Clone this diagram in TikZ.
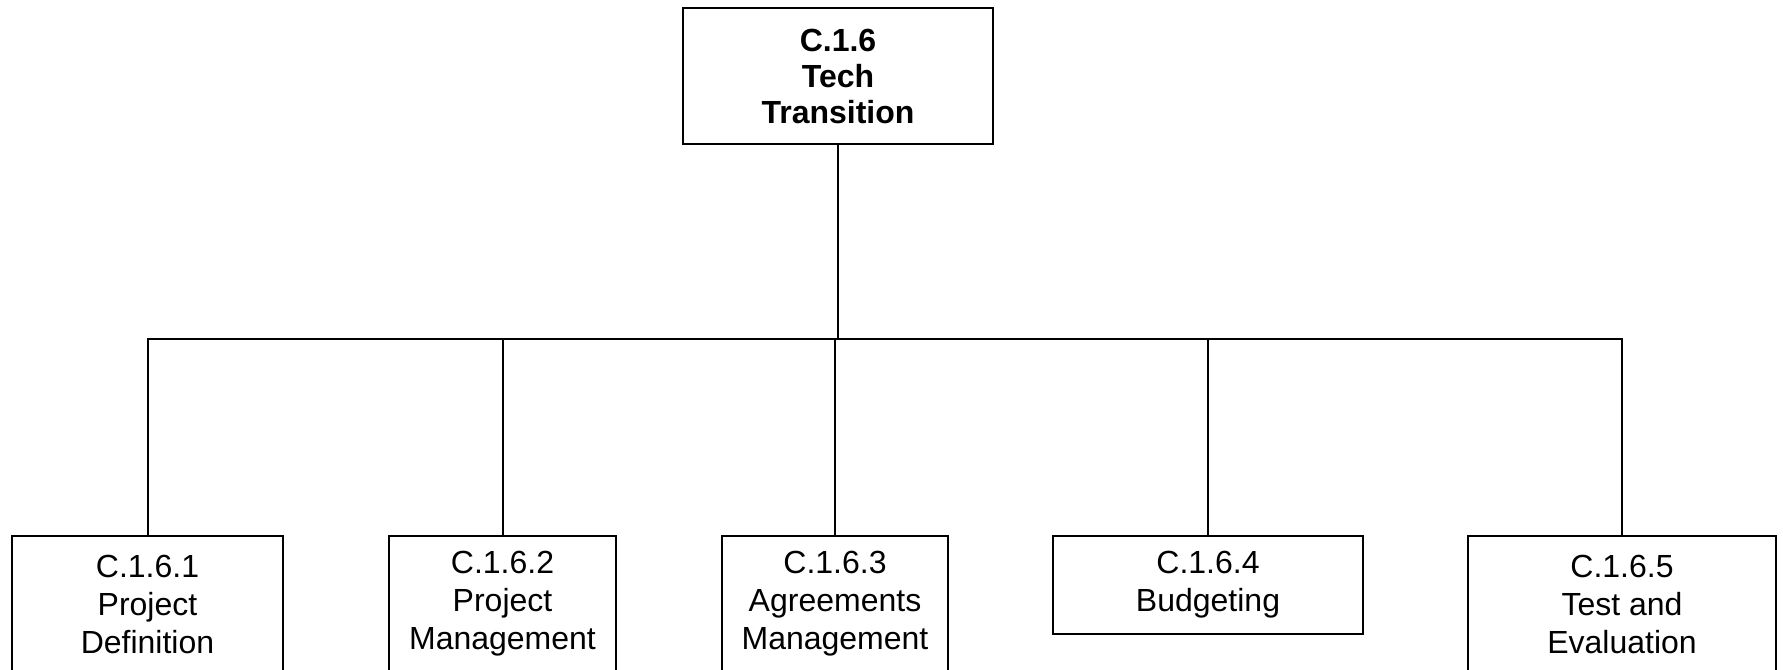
\documentclass[tikz,border=0pt]{standalone}
\usepackage{fontspec}
\setmainfont{Liberation Sans}
\usetikzlibrary{positioning}

\tikzset{
  wbsbox/.style={draw, line width=1.5pt, align=center, inner sep=0pt, anchor=north,
    font=\fontsize{24}{28.5}\selectfont, minimum height=102pt},
  wbsroot/.style={wbsbox, font=\bfseries\fontsize{24}{27}\selectfont, minimum width=232.5pt},
  wbslink/.style={line width=1.5pt}
}

\begin{document}
\begin{tikzpicture}[x=0.75pt,y=0.75pt]
\useasboundingbox (0,0) rectangle (1783,670);

\node[wbsroot] (root) at (838,663) {C.1.6\\Tech\\Transition};

\node[wbsbox, minimum width=203.25pt] (def)    at (147.5,135) {C.1.6.1\\Project\\Definition};
\node[wbsbox, minimum width=170.25pt] (pm)     at (502.5,135) {C.1.6.2\\Project\\Management};
\node[wbsbox, minimum width=169.5pt]  (agree)  at (835,135)   {C.1.6.3\\Agreements\\Management};
\node[wbsbox, minimum width=232.5pt, minimum height=73.5pt] (budget) at (1208,135) {C.1.6.4\\Budgeting};
\node[wbsbox, minimum width=231pt]    (test)   at (1622,135)  {C.1.6.5\\Test and\\Evaluation};

\coordinate (hub) at (838,331);
\draw[wbslink] (root) -- (hub);
\foreach \n in {def,pm,agree,budget,test}
  \draw[wbslink] (\n.north) |- (hub);
\end{tikzpicture}
\end{document}
